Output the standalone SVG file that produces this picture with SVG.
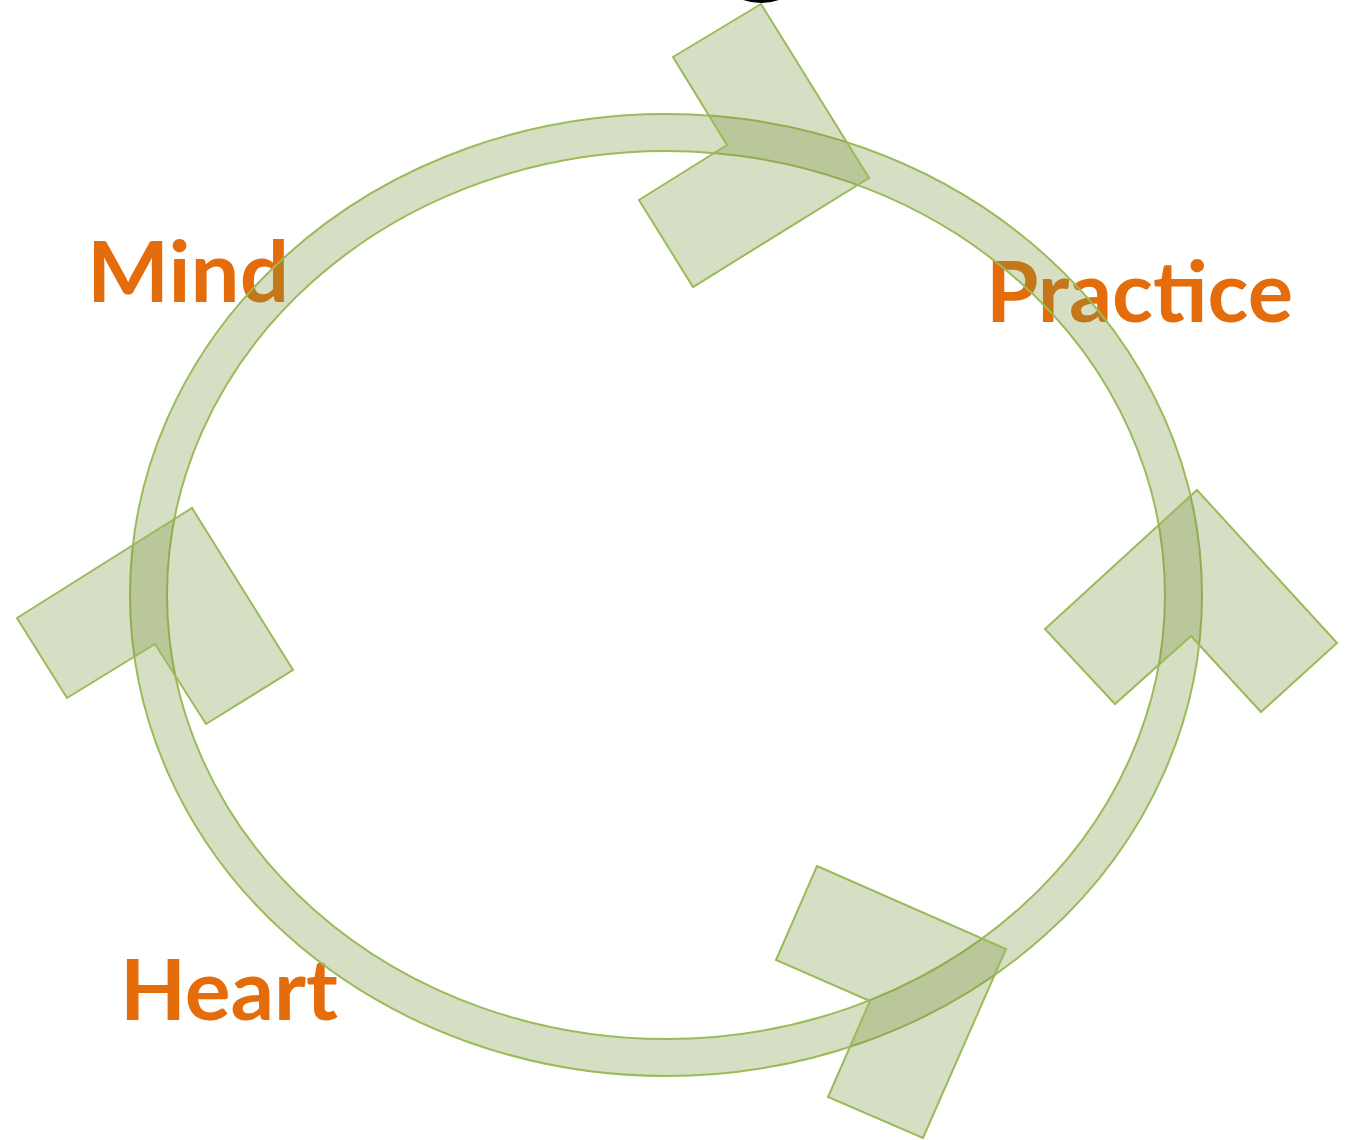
<svg xmlns="http://www.w3.org/2000/svg" width="1347" height="1140" viewBox="0 0 1347 1140">
  <style>
    .lbl { font-family: Lato, "Noto Sans", "Liberation Sans", sans-serif; font-weight: 700; font-size: 84px; fill: #e46c0a; }
    .shape { fill: rgba(118,146,60,0.3); stroke: #9bbb59; stroke-width: 2; stroke-linejoin: miter; }
  </style>
  <rect x="0" y="0" width="1347" height="1140" fill="#ffffff"/>
  <path d="M743,0 Q761,6 779,0 Z" fill="#000000"/>
  <g id="labels">
    <text id="mind" class="lbl" x="87" y="302" textLength="202" lengthAdjust="spacingAndGlyphs">Mind</text>
    <text id="practice" class="lbl" x="986" y="322" textLength="307" lengthAdjust="spacingAndGlyphs">Practice</text>
    <text id="heart" class="lbl" x="120" y="1020" textLength="218" lengthAdjust="spacingAndGlyphs">Heart</text>
  </g>
  <g id="ring">
    <path class="shape" fill-rule="evenodd" d="M130,595 A536,481 0 1,0 1202,595 A536,481 0 1,0 130,595 Z M167,595 A499,444 0 1,0 1165,595 A499,444 0 1,0 167,595 Z"/>
  </g>
  <g id="connectors">
    <polygon id="arrow-top" class="shape" points="673,57 761,4 869,178 693,287 639,200 727,145"/>
    <polygon id="arrow-right" class="shape" points="1045,629 1197,490 1337,643 1261,712 1191,636 1115,704"/>
    <polygon id="arrow-bottom" class="shape" points="817,866 1006,949 923,1138 828,1097 870,1001 776,960"/>
    <polygon id="arrow-left" class="shape" points="17,618 192,508 293,670 206,724 155,644 67,698"/>
  </g>
</svg>
